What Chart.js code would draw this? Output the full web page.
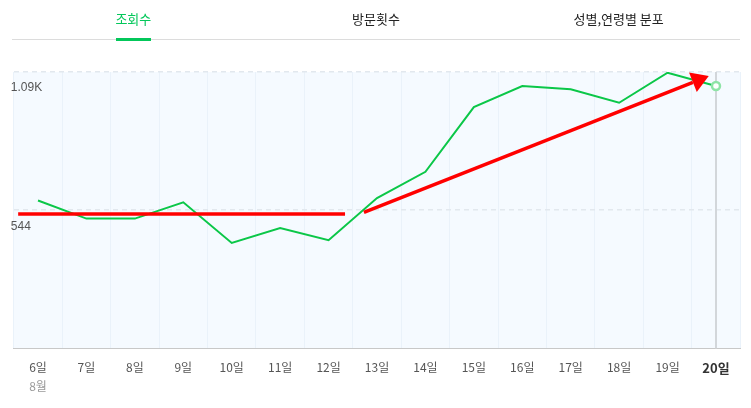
<!DOCTYPE html>
<html><head><meta charset="utf-8">
<script src="https://cdn.jsdelivr.net/npm/chart.js@4"></script>
<style>
html,body{margin:0;padding:0;background:#fff;width:751px;height:408px;overflow:hidden;font-family:"Noto Sans CJK KR","Noto Sans",sans-serif;}
#tabs{position:absolute;left:12px;top:0;width:728px;height:39px;border-bottom:1px solid #dcdcdc;display:flex;}
.tab{flex:1;text-align:center;font-size:13px;line-height:38px;color:#222;position:relative;}
.tab.on{color:#03c75a;}
.tab.on:after{content:"";position:absolute;left:50%;margin-left:-17px;width:35px;height:3px;background:#03c75a;bottom:-2px;}
#wrap{position:absolute;left:0;top:0;width:751px;height:408px;}
</style></head>
<body>
<div id="wrap"><canvas id="c"></canvas></div>
<div id="tabs"><div class="tab on">조회수</div><div class="tab">방문횟수</div><div class="tab">성별,연령별 분포</div></div>
<script>
const days = ['6일','7일','8일','9일','10일','11일','12일','13일','14일','15일','16일','17일','18일','19일','20일'];
const monthLabel = '8월';
const views = [582, 511, 511, 575, 415, 474, 426, 592, 695, 950, 1033, 1020, 967, 1085, 1033];
const yTicks = [0, 544, 1088];
const yTickText = ['', '544', '1.09K'];
// red hand-drawn annotations, in data space [categoryIndex, value]
const flatLine = [[-0.41, 529], [6.34, 529]];
const arrowLine = [[6.73, 535], [13.85, 1072]];
const selectedIndex = 14;

const bgPlugin = {
  id: 'bg',
  beforeDraw(chart) {
    const {ctx, chartArea: a} = chart;
    ctx.save();
    ctx.fillStyle = '#f5faff';
    ctx.fillRect(a.left, a.top, a.right - a.left, a.bottom - a.top);
    ctx.restore();
  }
};
const overlayPlugin = {
  id: 'overlay',
  afterDatasetsDraw(chart) {
    const {ctx, chartArea: a, scales: {x, y}} = chart;
    ctx.save();
    // selected vertical line
    const sx = x.getPixelForValue(selectedIndex);
    ctx.strokeStyle = '#d2d6da';
    ctx.lineWidth = 2;
    ctx.beginPath(); ctx.moveTo(sx, a.top); ctx.lineTo(sx, a.bottom); ctx.stroke();
    // red flat line
    ctx.strokeStyle = '#ff0000';
    ctx.lineWidth = 3.5;
    ctx.lineCap = 'butt';
    ctx.beginPath();
    ctx.moveTo(x.getPixelForValue(flatLine[0][0]), y.getPixelForValue(flatLine[0][1]));
    ctx.lineTo(x.getPixelForValue(flatLine[1][0]), y.getPixelForValue(flatLine[1][1]));
    ctx.stroke();
    // red arrow
    const x0 = x.getPixelForValue(arrowLine[0][0]), y0 = y.getPixelForValue(arrowLine[0][1]);
    const x1 = x.getPixelForValue(arrowLine[1][0]), y1 = y.getPixelForValue(arrowLine[1][1]);
    const ang = Math.atan2(y1 - y0, x1 - x0);
    const hl = 17, hw = 10.5;
    const bx = x1 - hl * Math.cos(ang), by = y1 - hl * Math.sin(ang);
    ctx.beginPath(); ctx.moveTo(x0, y0); ctx.lineTo(bx, by); ctx.stroke();
    ctx.fillStyle = '#ff0000';
    ctx.beginPath();
    ctx.moveTo(x1, y1);
    ctx.lineTo(bx + hw * Math.sin(ang), by - hw * Math.cos(ang));
    ctx.lineTo(bx - hw * Math.sin(ang), by + hw * Math.cos(ang));
    ctx.closePath(); ctx.fill();
    // selected point
    const py = y.getPixelForValue(views[selectedIndex]);
    ctx.beginPath(); ctx.arc(sx, py, 4, 0, Math.PI * 2);
    ctx.fillStyle = '#ffffff'; ctx.fill();
    ctx.strokeStyle = '#8ee4a6'; ctx.lineWidth = 2.5; ctx.stroke();
    // month label under first tick
    ctx.fillStyle = '#999';
    ctx.font = '12px "Noto Sans CJK KR", sans-serif';
    ctx.textAlign = 'center'; ctx.textBaseline = 'middle';
    ctx.fillText(monthLabel, x.getPixelForValue(0), 386);
    ctx.restore();
  }
};

new Chart(document.getElementById('c'), {
  type: 'line',
  data: {
    labels: days,
    datasets: [{
      data: views,
      borderColor: '#0bc748',
      borderWidth: 2,
      pointRadius: 0,
      tension: 0,
      fill: false
    }]
  },
  options: {
    responsive: true,
    maintainAspectRatio: false,
    animation: false,
    devicePixelRatio: 1,
    layout: {padding: {left: 13.8, right: 10.8, top: 72, bottom: 20}},
    plugins: {legend: {display: false}, tooltip: {enabled: false}},
    scales: {
      x: {
        offset: true,
        grid: {offset: true, color: '#eaf2fa', drawTicks: false},
        border: {display: true, color: '#c8c8c8', width: 1},
        ticks: {
          padding: 12,
          maxRotation: 0,
          autoSkip: false,
          color: ctx => ctx.index === selectedIndex ? '#333' : '#555',
          font: ctx => ({family: '"Noto Sans CJK KR", sans-serif', size: ctx.index === selectedIndex ? 13 : 12, weight: ctx.index === selectedIndex ? 'bold' : 'normal'})
        }
      },
      y: {
        min: 0, max: 1088,
        afterBuildTicks: s => { s.ticks = yTicks.map(v => ({value: v})); },
        grid: {
          drawTicks: false,
          color: ctx => ctx.tick && ctx.tick.value === 0 ? 'rgba(0,0,0,0)' : '#e2e8ee',
          lineWidth: 1.5
        },
        border: {display: false, dash: [5, 4]},
        ticks: {
          mirror: true,
          padding: -1,
          labelOffset: 16,
          color: '#555',
          font: {family: 'Arial, "Liberation Sans", sans-serif', size: 12},
          callback: (v) => yTickText[yTicks.indexOf(v)]
        }
      }
    }
  },
  plugins: [bgPlugin, overlayPlugin]
});
</script>
</body></html>
